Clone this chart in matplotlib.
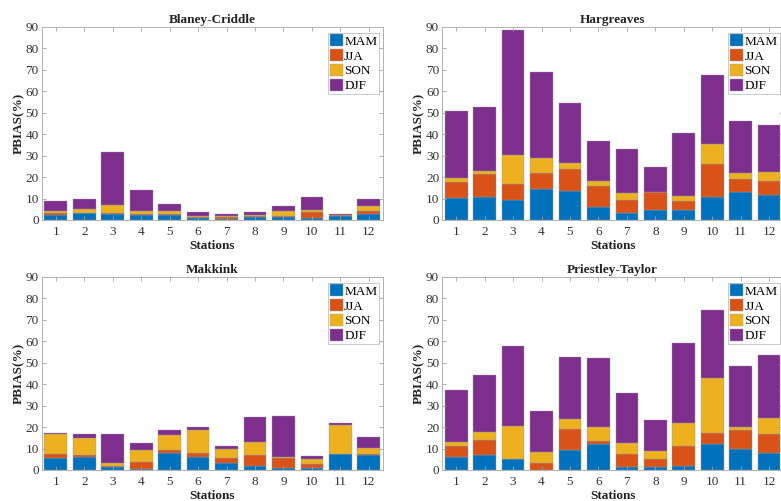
import numpy as np
import matplotlib.pyplot as plt

plt.rcParams['font.family'] = ['Liberation Serif', 'DejaVu Serif']

stations = np.arange(1, 13)
seasons = ["MAM", "JJA", "SON", "DJF"]
colors = ["#0072BD", "#D95319", "#EDB120", "#7E2F8E"]

# seasonal PBIAS (%) per station, one list per season
bc_mam = [2.4, 3.1, 3.0, 2.3, 2.3, 1.1, 0.5, 1.6, 1.6, 0.9, 1.9, 3.0]
bc_jja = [0.8, 0.3, 0.4, 0.3, 0.5, 0.5, 0.7, 0.3, 0.4, 2.7, 0.3, 1.0]
bc_son = [1.1, 1.9, 3.7, 1.7, 1.2, 0.3, 0.7, 0.3, 2.2, 0.9, 0.1, 2.4]
bc_djf = [4.4, 4.5, 24.4, 9.8, 3.6, 2.0, 1.1, 1.4, 2.2, 6.1, 0.7, 3.2]

hg_mam = [10.2, 10.7, 9.3, 14.6, 13.5, 6.1, 3.4, 4.7, 4.5, 10.9, 13.0, 11.8]
hg_jja = [7.3, 10.6, 7.6, 7.1, 10.1, 9.7, 5.9, 8.2, 4.5, 15.3, 5.9, 6.2]
hg_son = [1.9, 1.5, 13.5, 7.0, 2.8, 2.4, 3.3, 0.3, 2.2, 9.0, 3.1, 4.4]
hg_djf = [31.5, 29.8, 58.1, 40.4, 28.3, 18.6, 20.3, 11.6, 29.2, 32.3, 24.0, 22.0]

mk_mam = [5.6, 5.9, 1.4, 0.5, 7.9, 6.1, 3.3, 2.0, 1.1, 0.9, 7.5, 7.0]
mk_jja = [1.7, 1.2, 0.3, 3.2, 1.3, 2.0, 2.4, 5.1, 4.3, 1.7, 0.1, 0.3]
mk_son = [9.3, 7.7, 1.7, 5.6, 6.9, 10.5, 3.9, 5.9, 0.8, 2.5, 13.5, 3.1]
mk_djf = [0.5, 1.8, 13.5, 3.1, 2.7, 1.4, 1.4, 11.5, 19.1, 1.3, 0.9, 5.0]

pt_mam = [6.1, 6.8, 5.0, 0.2, 9.2, 12.0, 1.6, 1.4, 1.9, 12.1, 9.9, 8.1]
pt_jja = [5.1, 7.2, 0.1, 3.1, 10.1, 1.4, 5.9, 3.7, 9.3, 5.3, 8.7, 8.7]
pt_son = [2.0, 3.9, 15.4, 4.9, 4.5, 6.8, 4.9, 3.8, 10.7, 25.6, 1.6, 7.3]
pt_djf = [23.9, 26.5, 37.0, 19.4, 29.0, 31.8, 23.6, 14.2, 37.4, 31.7, 28.2, 29.6]

panels = [
    ("Blaney-Criddle", [bc_mam, bc_jja, bc_son, bc_djf], [0.0533, 0.5609]),
    ("Hargreaves", [hg_mam, hg_jja, hg_son, hg_djf], [0.5659, 0.5609]),
    ("Makkink", [mk_mam, mk_jja, mk_son, mk_djf], [0.0533, 0.0619]),
    ("Priestley-Taylor", [pt_mam, pt_jja, pt_son, pt_djf], [0.5659, 0.0619]),
]

fig = plt.figure(figsize=(7.81, 5.01), dpi=100)

for title, series, (x0, y0) in panels:
    ax = fig.add_axes([x0, y0, 0.4371, 0.3858])
    bottom = np.zeros(len(stations))
    for name, vals, col in zip(seasons, series, colors):
        ax.bar(stations, vals, width=0.8, bottom=bottom, color=col,
               edgecolor="#9a9a9a", linewidth=0.3, label=name)
        bottom += np.array(vals)

    ax.set_xlim(0.5, 12.5)
    ax.set_ylim(0, 90)
    ax.set_xticks(stations)
    ax.set_yticks(np.arange(0, 91, 10))
    ax.tick_params(direction="in", top=True, right=True, length=3,
                   width=0.6, color="#a0a0a0", labelsize=9.5,
                   labelcolor="#333333")
    ax.tick_params(axis="x", pad=4)
    ax.tick_params(axis="y", pad=2)
    for s in ax.spines.values():
        s.set_color("#b0b0b0")
        s.set_linewidth(0.7)

    ax.set_title(title, fontsize=9.5, fontweight="bold", pad=2.5, color="#222222")
    ax.set_ylabel("PBIAS(%)", fontsize=9.5, fontweight="bold", labelpad=0.5,
                  color="#222222")
    ax.set_xlabel("Stations", fontsize=9.5, fontweight="bold", labelpad=1.5,
                  color="#222222")

    leg = ax.legend(loc="upper right", bbox_to_anchor=(0.989, 0.97),
                    borderaxespad=0, fontsize=9.5, frameon=True,
                    fancybox=False, handlelength=1.0, handleheight=1.0,
                    handletextpad=0.1, labelspacing=0.1, borderpad=0.15)
    leg.get_frame().set_edgecolor("#b0b0b0")
    leg.get_frame().set_linewidth(0.6)

fig.savefig("out.png", dpi=100)
